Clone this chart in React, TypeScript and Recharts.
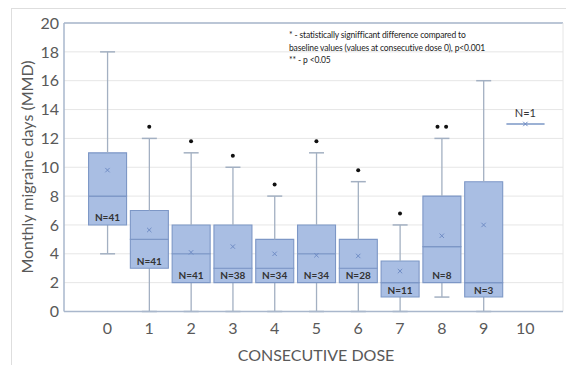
import {
  Bar,
  CartesianGrid,
  ComposedChart,
  ReferenceLine,
  Scatter,
  XAxis,
  YAxis,
} from "recharts";

// Box plot of monthly migraine days by consecutive dose
const doses = [0, 1, 2, 3, 4, 5, 6, 7, 8, 9, 10];
const mins = [4, 0, 0, 0, 0, 0, 0, 0, 1, 0, 13];
const q1s = [6, 3, 2, 2, 2, 2, 2, 1, 2, 1, 13];
const medians = [8, 5, 4, 3, 3, 4, 3, 2, 4.5, 2, 13];
const q3s = [11, 7, 6, 6, 5, 6, 5, 3.5, 8, 9, 13];
const maxs = [18, 12, 11, 10, 8, 11, 9, 6, 12, 16, 13];
const means = [9.8, 5.65, 4.1, 4.5, 4.0, 3.9, 3.85, 2.8, 5.25, 6.0, 13];
const counts = [41, 41, 41, 38, 34, 34, 28, 11, 8, 3, 1];
const starMarks = ["", "*", "*", "*", "*", "*", "*", "*", "**", "", ""];
const starLevels = [null, 12.8, 11.8, 10.8, 8.8, 11.8, 9.8, 6.8, 12.8, null, null];
const yTicks = [0, 2, 4, 6, 8, 10, 12, 14, 16, 18, 20];

const legendLines = [
  "* - statistically signifficant difference compared to",
  "baseline values (values at consecutive dose 0), p<0.001",
  "** - p <0.05",
];

const rows = doses.map((dose, i) => ({
  dose,
  base: mins[i],
  wLo: q1s[i] - mins[i],
  bLo: medians[i] - q1s[i],
  bHi: q3s[i] - medians[i],
  wHi: maxs[i] - q3s[i],
  mean: means[i],
  q1: q1s[i],
  star: starLevels[i],
  marks: starMarks[i],
  n: counts[i],
  flat: q1s[i] === q3s[i],
}));

const FONT = "Lato, 'Open Sans', sans-serif";
const BOX_FILL = "#a9bee3";
const BOX_STROKE = "#7d97c6";
const WHISKER = "#a3b0c2";
const AXIS = "#a9b7cc";
const TEXT = "#595959";

const whisker = (capAt: "top" | "bottom") => (props: any) => {
  const { x, y, width, height } = props;
  if (!height || height <= 0) return <g />;
  const cx = x + width / 2;
  const capY = capAt === "top" ? y : y + height;
  return (
    <g>
      <line x1={cx} x2={cx} y1={y} y2={y + height} stroke={WHISKER} strokeWidth={1.3} />
      <line x1={cx - 7.5} x2={cx + 7.5} y1={capY} y2={capY} stroke={WHISKER} strokeWidth={1.5} />
    </g>
  );
};

const boxPart = (props: any) => {
  const { x, y, width, height } = props;
  const h = height || 0;
  return (
    <path
      d={`M${x},${y} h${width} v${h} h${-width} Z`}
      fill={BOX_FILL}
      stroke={BOX_STROKE}
      strokeWidth={1.1}
    />
  );
};

const meanMark = (props: any) => {
  const { cx, cy } = props;
  if (!Number.isFinite(cx) || !Number.isFinite(cy)) return <g />;
  const s = 2.2;
  return (
    <g stroke="#6f8cc5" strokeWidth={1}>
      <line x1={cx - s} x2={cx + s} y1={cy - s} y2={cy + s} />
      <line x1={cx - s} x2={cx + s} y1={cy + s} y2={cy - s} />
    </g>
  );
};

const starMark = (props: any) => {
  const { cx, cy, payload } = props;
  if (!Number.isFinite(cy) || !payload?.marks) return <g />;
  const offs = payload.marks.length === 2 ? [-4.3, 4.3] : [0];
  return (
    <g>
      {offs.map((o) => (
        <circle key={o} cx={cx + o} cy={cy} r={2} fill="#111" />
      ))}
    </g>
  );
};

const countLabel = (props: any) => {
  const { cx, cy, payload } = props;
  if (!Number.isFinite(cy)) return <g />;
  if (payload.flat) {
    return (
      <text x={cx} y={cy - 7} textAnchor="middle" fontSize={11} fontFamily={FONT} fill="#333">
        N={payload.n}
      </text>
    );
  }
  return (
    <text
      x={cx}
      y={cy - 3.5}
      textAnchor="middle"
      fontSize={10}
      fontWeight={700}
      fontFamily={FONT}
      fill="#333"
    >
      N={payload.n}
    </text>
  );
};

export default function App() {
  return (
    <div style={{ position: "absolute", left: 0, top: 0, width: 566, height: 365, background: "#fff" }}>
      {/* faint outer frame */}
      <div
        style={{
          position: "absolute",
          left: 11,
          top: 8,
          right: 0,
          bottom: 0,
          borderTop: "1px solid #dedede",
          borderLeft: "1px solid #dedede",
        }}
      />
      <ComposedChart
        width={566}
        height={365}
        data={rows}
        margin={{ top: 23, right: 3, bottom: 23.5, left: 24 }}
        style={{ position: "absolute", left: 0, top: 0 }}
      >
        <CartesianGrid horizontal vertical={false} stroke="#e6e6e6" />
        <XAxis
          dataKey="dose"
          type="number"
          domain={[-1.04, 10.9]}
          ticks={doses}
          allowDataOverflow
          height={30}
          tickSize={0}
          tickMargin={11}
          stroke={AXIS}
          strokeWidth={1.5}
          tick={{ fontSize: 16, fill: TEXT, fontFamily: FONT }}
        />
        <YAxis
          type="number"
          domain={[0, 20]}
          ticks={yTicks}
          width={40}
          tickSize={0}
          tickMargin={5}
          stroke={AXIS}
          strokeWidth={1.5}
          tick={{ fontSize: 16, fill: TEXT, fontFamily: FONT }}
        />
        <ReferenceLine y={20} stroke={AXIS} strokeWidth={1.5} />
        <ReferenceLine x={10.9} stroke="#e6e6e6" />
        <Bar dataKey="base" stackId="b" barSize={38} fill="none" isAnimationActive={false} />
        <Bar dataKey="wLo" stackId="b" barSize={38} shape={whisker("bottom")} isAnimationActive={false} />
        <Bar dataKey="bLo" stackId="b" barSize={38} shape={boxPart} isAnimationActive={false} />
        <Bar dataKey="bHi" stackId="b" barSize={38} shape={boxPart} isAnimationActive={false} />
        <Bar dataKey="wHi" stackId="b" barSize={38} shape={whisker("top")} isAnimationActive={false} />
        <Scatter dataKey="mean" shape={meanMark} isAnimationActive={false} />
        <Scatter dataKey="star" shape={starMark} isAnimationActive={false} />
        <Scatter dataKey="q1" shape={countLabel} isAnimationActive={false} />
      </ComposedChart>
      <div
        style={{
          position: "absolute",
          left: 27 - 130,
          top: 167 - 10,
          width: 260,
          height: 20,
          lineHeight: "20px",
          textAlign: "center",
          transform: "rotate(-90deg)",
          whiteSpace: "nowrap",
          fontFamily: FONT,
          fontSize: 16,
          color: TEXT,
        }}
      >
        Monthly migraine days (MMD)
      </div>
      <div
        style={{
          position: "absolute",
          left: 316,
          top: 354,
          transform: "translate(-50%, -50%)",
          whiteSpace: "nowrap",
          fontFamily: FONT,
          fontSize: 16,
          color: TEXT,
        }}
      >
        CONSECUTIVE DOSE
      </div>
      <div
        style={{
          position: "absolute",
          left: 289,
          top: 29,
          fontFamily: FONT,
          fontSize: 8.5,
          lineHeight: "12.5px",
          letterSpacing: -0.15,
          color: "#222",
          whiteSpace: "nowrap",
        }}
      >
        {legendLines.map((l) => (
          <div key={l}>{l}</div>
        ))}
      </div>
    </div>
  );
}
